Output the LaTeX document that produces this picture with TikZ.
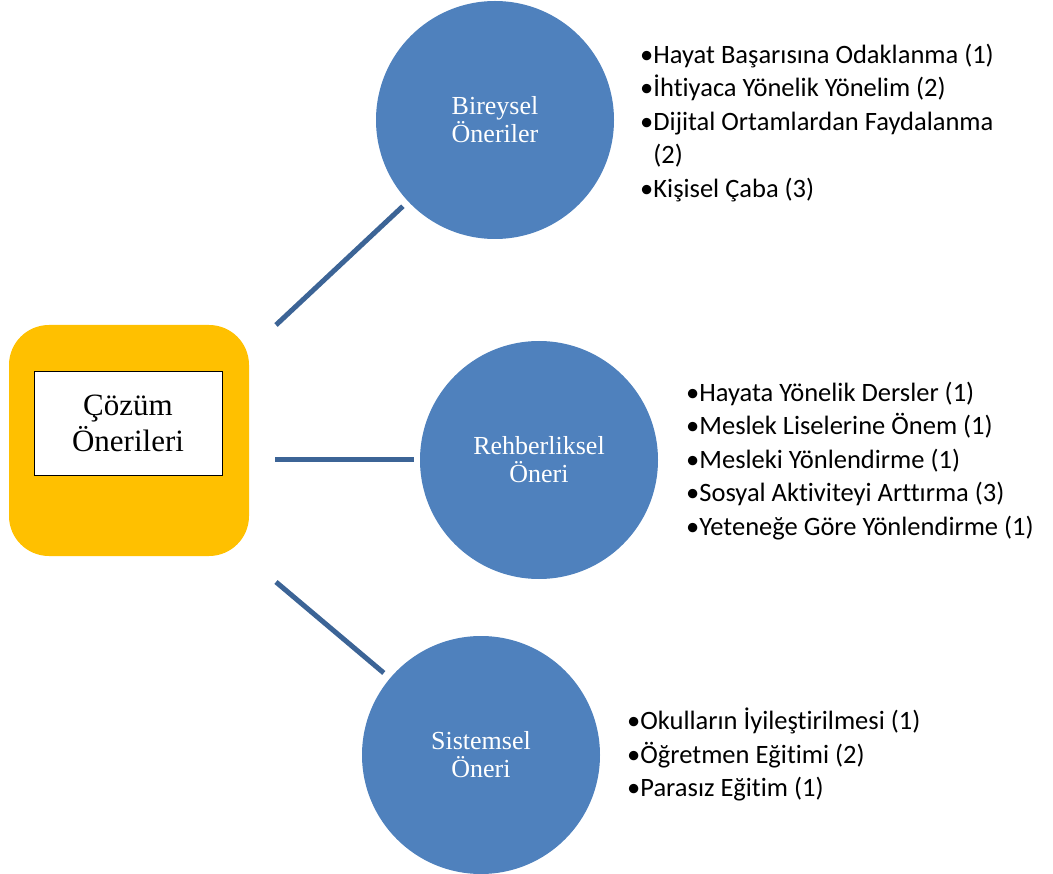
\documentclass[tikz,border=0pt]{standalone}
\usepackage{fontspec}
\setmainfont{Liberation Serif}
\newfontfamily\listfont[Ligatures=NoCommon]{Carlito}
\usepackage{tikz}

\definecolor{oneriblue}{RGB}{79,129,189}
\definecolor{linkblue}{RGB}{60,100,150}
\definecolor{cozumorange}{RGB}{255,192,0}

\begin{document}
\begin{tikzpicture}[x=1pt,y=-1pt,
  oneri/.style={circle,fill=oneriblue,text=white,align=center,inner sep=0pt,minimum size=238pt,font=\fontsize{26}{28}\selectfont},
  liste/.style={anchor=west,align=left,inner sep=0pt,font=\listfont\fontsize{26.5}{33.5}\selectfont},
  link/.style={draw=linkblue,line width=5pt}]

\useasboundingbox (0,0) rectangle (1053,874);

\node[fill=cozumorange,rounded corners=40pt,minimum width=240pt,minimum height=231pt] (cerceve) at (129,440.5) {};
\node[draw=black,fill=white,line width=0.8pt,minimum width=188pt,minimum height=104pt,align=center,font=\fontsize{31}{36}\selectfont] (cozum) at (128,423) {Çözüm\\Önerileri};

\node[oneri] (bireysel) at (495,120) {Bireysel\\Öneriler};
\node[oneri] (rehber) at (539,460) {Rehberliksel\\Öneri};
\node[oneri] (sistem) at (481,755) {Sistemsel\\Öneri};

\coordinate (b1) at (276,325);
\coordinate (b2) at (275,460);
\coordinate (b3) at (276,582);
\draw[link,shorten >=7pt] (b1) -- (bireysel);
\draw[link,shorten >=6pt] (b2) -- (rehber);
\draw[link,shorten >=8pt] (b3) -- (sistem);

\node[liste] (bireysel-liste) at (640,123) {•Hayat Başarısına Odaklanma (1)\\•İhtiyaca Yönelik Yönelim (2)\\•Dijital Ortamlardan Faydalanma\\\phantom{•}(2)\\•Kişisel Çaba (3)};
\node[liste] (rehber-liste) at (686,461) {•Hayata Yönelik Dersler (1)\\•Meslek Liselerine Önem (1)\\•Mesleki Yönlendirme (1)\\•Sosyal Aktiviteyi Arttırma (3)\\•Yeteneğe Göre Yönlendirme (1)};
\node[liste] (sistem-liste) at (627,754.5) {•Okulların İyileştirilmesi (1)\\•Öğretmen Eğitimi (2)\\•Parasız Eğitim (1)};

\end{tikzpicture}
\end{document}
